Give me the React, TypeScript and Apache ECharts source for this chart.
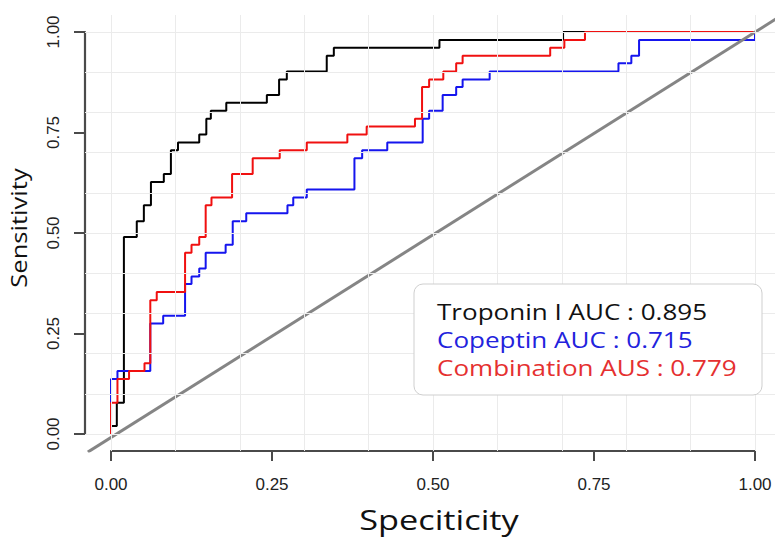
import React, { useEffect, useRef } from "react";
import * as echarts from "echarts";

// ROC step points: (1 - specificity, sensitivity) where each rise ends
const troponinFpr = [0, 0, 0.009, 0.020, 0.040, 0.051, 0.062, 0.082, 0.093, 0.104, 0.137, 0.148, 0.155, 0.179, 0.242, 0.261, 0.273, 0.335, 0.346, 0.510, 0.702, 1.0];
const troponinTpr = [0, 0.020, 0.078, 0.490, 0.529, 0.569, 0.627, 0.647, 0.706, 0.725, 0.745, 0.784, 0.804, 0.824, 0.843, 0.882, 0.902, 0.941, 0.961, 0.980, 1.0, 1.0];

const copeptinFpr = [0, 0, 0.010, 0.061, 0.081, 0.115, 0.125, 0.137, 0.147, 0.178, 0.189, 0.210, 0.274, 0.283, 0.304, 0.378, 0.390, 0.429, 0.484, 0.494, 0.515, 0.536, 0.546, 0.588, 0.788, 0.808, 0.820, 1.0];
const copeptinTpr = [0, 0.137, 0.157, 0.275, 0.294, 0.373, 0.392, 0.412, 0.451, 0.471, 0.529, 0.549, 0.569, 0.588, 0.608, 0.686, 0.706, 0.725, 0.784, 0.804, 0.843, 0.863, 0.882, 0.902, 0.922, 0.941, 0.980, 1.0];

const combinationFpr = [0, 0, 0.010, 0.028, 0.052, 0.061, 0.071, 0.115, 0.125, 0.137, 0.147, 0.156, 0.188, 0.220, 0.262, 0.304, 0.367, 0.397, 0.472, 0.483, 0.494, 0.516, 0.536, 0.546, 0.682, 0.704, 0.736, 1.0];
const combinationTpr = [0, 0.078, 0.137, 0.157, 0.176, 0.333, 0.353, 0.451, 0.471, 0.490, 0.569, 0.588, 0.647, 0.686, 0.706, 0.725, 0.745, 0.765, 0.784, 0.863, 0.882, 0.902, 0.922, 0.941, 0.961, 0.980, 1.0, 1.0];

const refLineX = [-0.036, 1.04];
const refLineY = [-0.045, 1.04];

const axisMin = 0;
const axisMax = 1;
const axisStep = 0.25;
const gridValues = [0, 0.1, 0.2, 0.3, 0.4, 0.5, 0.6, 0.7, 0.8, 0.9, 1.0];

const legendLines = ["Troponin I AUC : 0.895", "Copeptin AUC : 0.715", "Combination AUS : 0.779"];
const legendColors = ["#111111", "#2222dd", "#e53030"];
const lineColors = ["#000000", "#1515ee", "#f01010"];
const xTitle = "Speciticity";
const yTitle = "Sensitivity";

// panel (expanded) ranges
const X_MIN = -0.0404, X_MAX = 1.0311, Y_MIN = -0.0423, Y_MAX = 1.0423;

const zip = (xs: number[], ys: number[]) => xs.map((x, i) => [x, ys[i]]);

export default function App() {
  const ref = useRef<HTMLDivElement>(null);
  useEffect(() => {
    if (!ref.current) return;
    const chart = echarts.init(ref.current, undefined, { renderer: "svg" });
    const axisColor = "#4a4a4a";
    const labelFont = { fontFamily: "Liberation Sans", fontSize: 17, color: "#222222" };
    const stepSeries = (name: string, xs: number[], ys: number[], color: string) => ({
      name,
      type: "line",
      step: "end",
      data: zip(xs, ys),
      showSymbol: false,
      symbol: "none",
      silent: true,
      z: 3,
      lineStyle: { color, width: 2 },
    });
    chart.setOption({
      animation: false,
      backgroundColor: "#ffffff",
      grid: [
        { left: 85, top: 15, width: 690, height: 436, containLabel: false, outerBoundsMode: "none" },
        { left: 111, top: 32, width: 644, height: 402, containLabel: false, outerBoundsMode: "none" },
      ],
      xAxis: [
        {
          gridIndex: 0,
          type: "value",
          min: X_MIN,
          max: X_MAX,
          axisLine: { show: false, onZero: false },
          splitLine: { show: false },
          axisTick: { show: false },
          axisLabel: { show: false },
        },
        {
          gridIndex: 1,
          type: "value",
          position: "bottom",
          offset: 17,
          min: axisMin,
          max: axisMax,
          interval: axisStep,
          axisLine: { show: true, onZero: false, lineStyle: { color: axisColor, width: 2.2 } },
          splitLine: { show: false },
          axisTick: { show: true, inside: false, length: 10, lineStyle: { color: axisColor, width: 2 } },
          axisLabel: { ...labelFont, margin: 25, formatter: (v: number) => v.toFixed(2) },
        },
      ],
      yAxis: [
        {
          gridIndex: 0,
          type: "value",
          min: Y_MIN,
          max: Y_MAX,
          axisLine: { show: false, onZero: false },
          splitLine: { show: false },
          axisTick: { show: false },
          axisLabel: { show: false },
        },
        {
          gridIndex: 1,
          type: "value",
          position: "left",
          offset: 26,
          min: axisMin,
          max: axisMax,
          interval: axisStep,
          axisLine: { show: true, onZero: false, lineStyle: { color: axisColor, width: 2.2 } },
          splitLine: { show: false },
          axisTick: { show: true, inside: false, length: 11, lineStyle: { color: axisColor, width: 2 } },
          axisLabel: { ...labelFont, margin: 23, rotate: 90, formatter: (v: number) => v.toFixed(2) },
        },
      ],
      series: [
        {
          type: "line",
          xAxisIndex: 0,
          yAxisIndex: 0,
          data: [[X_MIN, Y_MIN]],
          symbol: "none",
          silent: true,
          z: 1,
          lineStyle: { width: 0 },
          markLine: {
            silent: true,
            symbol: ["none", "none"],
            label: { show: false },
            lineStyle: { color: "#ebebeb", width: 1, type: "solid" },
            data: [
              ...gridValues.map((v) => ({ xAxis: v })),
              ...gridValues.map((v) => ({ yAxis: v })),
            ],
          },
        },
        stepSeries("Troponin I", troponinFpr, troponinTpr, lineColors[0]),
        stepSeries("Copeptin", copeptinFpr, copeptinTpr, lineColors[1]),
        stepSeries("Combination", combinationFpr, combinationTpr, lineColors[2]),
        {
          type: "line",
          xAxisIndex: 0,
          yAxisIndex: 0,
          data: zip(refLineX, refLineY),
          symbol: "none",
          silent: true,
          z: 4,
          lineStyle: { color: "#858585", width: 3 },
        },
      ],
      graphic: [
        {
          type: "rect",
          shape: { x: 414, y: 284, width: 348, height: 111, r: 9 },
          style: { fill: "#ffffff", stroke: "#cfcfcf", lineWidth: 1 },
          z: 10,
        },
        ...legendLines.map((t, i) => ({
          type: "text",
          x: 437,
          y: 312 + i * 28,
          scaleX: 1.24,
          z: 11,
          style: { text: t, fontFamily: "Open Sans", fontSize: 21, fill: legendColors[i], align: "left", verticalAlign: "middle" },
        })),
        {
          type: "text",
          x: 439,
          y: 520,
          scaleX: 1.27,
          z: 11,
          style: { text: xTitle, fontFamily: "Open Sans", fontSize: 27, lineHeight: 27, fill: "#111111", align: "center", verticalAlign: "middle" },
        },
        {
          type: "text",
          x: 19,
          y: 228,
          rotation: Math.PI / 2,
          scaleX: 1.22,
          z: 11,
          style: { text: yTitle, fontFamily: "Open Sans", fontSize: 21, fill: "#111111", align: "center", verticalAlign: "middle" },
        },
      ],
    });
    return () => chart.dispose();
  }, []);
  return <div ref={ref} style={{ position: "fixed", left: 0, top: 0, width: 775, height: 537, background: "#fff" }} />;
}
